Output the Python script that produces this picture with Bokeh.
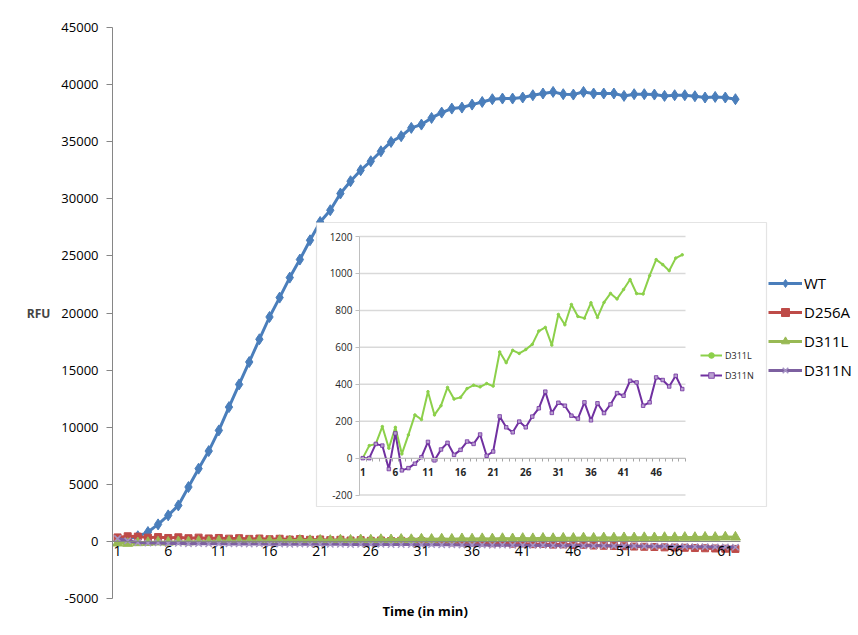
from bokeh.plotting import figure
from bokeh.models import (Range1d, LinearAxis, FixedTicker, Legend, LegendItem,
                          BoxAnnotation, Title)
from bokeh.embed import file_html
from bokeh.resources import INLINE

# ---------------- data ----------------
TIME = list(range(1, 63))
WT = [50, 200, 450, 820, 1490, 2280, 3150, 4760, 6370, 7910,
      9720, 11760, 13750, 15710, 17700, 19650, 21350, 23100, 24680, 26370,
      27970, 29000, 30460, 31540, 32500, 33290, 34160, 34980, 35480, 36210,
      36500, 37080, 37550, 37900, 37990, 38250, 38480, 38720, 38780, 38780,
      38870, 39070, 39220, 39360, 39160, 39130, 39360, 39220, 39220, 39220,
      39010, 39160, 39160, 39130, 39010, 39070, 39070, 38980, 38870, 38920,
      38870, 38720]
D256A = [350, 450, 420, 330, 380, 300, 360, 280, 330, 260,
         300, 240, 280, 220, 250, 190, 230, 160, 200, 140,
         170, 110, 140, 80, 110, 50, 80, 30, 50, 0,
         20, -40, -20, -80, -60, -120, -100, -160, -140, -200,
         -180, -240, -220, -280, -260, -320, -300, -360, -380, -400,
         -420, -450, -470, -490, -520, -540, -560, -580, -600, -620,
         -640, -660]
D311L = [-150, -180, -120, -100, -60, -80, -30, -50, 0, -20,
         30, 10, 40, 20, 60, 40, 70, 50, 90, 70,
         100, 80, 120, 100, 140, 120, 160, 140, 180, 160,
         200, 180, 210, 190, 230, 210, 240, 220, 250, 230,
         260, 240, 270, 250, 280, 270, 300, 280, 310, 300,
         320, 310, 330, 320, 340, 330, 350, 340, 360, 350,
         380, 370]
D311N = [250, 50, -100, -150, -130, -180, -160, -200, -190, -210,
         -200, -220, -210, -230, -220, -240, -230, -250, -240, -260,
         -250, -260, -250, -270, -260, -270, -260, -280, -270, -280,
         -290, -280, -300, -290, -310, -320, -310, -330, -320, -340,
         -330, -350, -340, -360, -370, -360, -380, -390, -380, -400,
         -410, -400, -420, -430, -420, -440, -450, -460, -470, -480,
         -490, -500]
Y_TICKS = [-5000, 0, 5000, 10000, 15000, 20000, 25000, 30000, 35000, 40000, 45000]
X_TICKS = [1, 6, 11, 16, 21, 26, 31, 36, 41, 46, 51, 56, 61]

INSET_TIME = list(range(1, 51))
INSET_D311L = [0, 68, 77, 171, 54, 167, 23, 126, 234, 209,
               360, 234, 284, 383, 320, 329, 377, 395, 386, 404,
               390, 575, 517, 584, 567, 588, 616, 688, 708, 612,
               778, 722, 832, 767, 758, 841, 762, 843, 892, 862,
               913, 967, 891, 889, 988, 1075, 1048, 1015, 1083, 1101]
INSET_D311N = [0, 0, 77, 68, -59, 134, -66, -54, -30, 5,
               88, -12, 47, 83, 18, 45, 90, 77, 128, 13,
               36, 226, 167, 140, 198, 167, 225, 270, 360, 245,
               300, 284, 230, 214, 302, 205, 297, 244, 291, 352,
               338, 419, 410, 284, 302, 437, 423, 388, 446, 374]
INSET_Y_TICKS = [-200, 0, 200, 400, 600, 800, 1000, 1200]
INSET_X_TICKS = [1, 6, 11, 16, 21, 26, 31, 36, 41, 46]

# ---------------- layout constants (page pixels) ----------------
FIG_W, FIG_H = 856, 632
AX_L, AX_R, FRAME_T, FRAME_B = 112, 740, 27, 598   # category axis spans AX_L..AX_R
X_MIN, X_MAX = 0.5, len(TIME) + 0.5
Y_MIN, Y_MAX = -5000, 45000
IN_L, IN_R, IN_T, IN_B = 359, 685, 236, 494.6      # inset axes extents
IX_MIN, IX_MAX = 0.5, len(INSET_TIME) + 0.5
IY_MIN, IY_MAX = -200, 1200
BOX_L, BOX_R, BOX_T, BOX_B = 316, 766, 222, 506    # inset outer box

kxm = (AX_R - AX_L) / (X_MAX - X_MIN)
x_end = X_MAX + (FIG_W - AX_R) / kxm               # frame runs to the figure's right edge
kx = (IN_R - IN_L) / (IX_MAX - IX_MIN)
ky = (IN_B - IN_T) / (IY_MAX - IY_MIN)
ix_start = IX_MIN - (IN_L - AX_L) / kx
ix_end = IX_MAX + (FIG_W - IN_R) / kx
iy_start = IY_MIN - (FRAME_B - IN_B) / ky
iy_end = IY_MAX + (IN_T - FRAME_T) / ky

FONT = "Open Sans"
AX_GRAY = "#868686"


def hyphen_minus(ticks):
    return {t: str(t) for t in ticks if t < 0}


p = figure(width=FIG_W, height=FIG_H, output_backend="svg", toolbar_location=None,
           x_range=Range1d(X_MIN, x_end), y_range=Range1d(Y_MIN, Y_MAX),
           x_axis_location=None,
           min_border_left=AX_L, min_border_right=0,
           min_border_top=FRAME_T, min_border_bottom=FIG_H - FRAME_B)
p.extra_x_ranges = {"ix": Range1d(ix_start, ix_end)}
p.extra_y_ranges = {"iy": Range1d(iy_start, iy_end)}
p.xgrid.visible = False
p.ygrid.visible = False
p.outline_line_color = None
p.background_fill_color = "white"

# main y axis
yax = p.yaxis[0]
yax.ticker = FixedTicker(ticks=Y_TICKS)
yax.major_label_overrides = hyphen_minus(Y_TICKS)
yax.axis_line_color = AX_GRAY
yax.major_tick_line_color = AX_GRAY
yax.major_tick_out = 6
yax.major_tick_in = 0
yax.minor_tick_out = 0
yax.minor_tick_in = 0
yax.major_label_text_font = FONT
yax.major_label_text_font_size = "13px"
yax.major_label_text_color = "black"
yax.major_label_standoff = 8
yax.axis_label = "RFU"
yax.axis_label_orientation = "horizontal"
yax.axis_label_text_font = FONT
yax.axis_label_text_font_style = "bold"
yax.axis_label_text_font_size = "12px"
yax.axis_label_standoff = 8

# category axis crossing at zero
x0 = LinearAxis(fixed_location=0, bounds=(X_MIN, X_MAX),
                ticker=FixedTicker(ticks=X_TICKS),
                axis_line_color=AX_GRAY, major_tick_out=0, major_tick_in=0,
                minor_tick_out=0, minor_tick_in=0,
                major_label_standoff=5, major_label_text_font=FONT,
                major_label_text_font_size="14px", major_label_text_color="black")
p.add_layout(x0, "below")

# x-axis title, below the plot area, centred under the category axis
p.add_layout(Title(text="Time (in min)", align="left", offset=270, standoff=6,
                   vertical_align="top", text_font=FONT, text_font_style="bold",
                   text_font_size="13px", text_color="black"), "below")

# main series
C_WT, C_RED, C_GRN, C_PUR = "#4A7EBB", "#BE4B48", "#98B954", "#7D60A0"
wt_l = p.line(TIME, WT, line_color=C_WT, line_width=3)
wt_s = p.scatter(TIME, WT, marker="diamond", size=11, fill_color=C_WT, line_color=C_WT)
ra_l = p.line(TIME, D256A, line_color=C_RED, line_width=3)
ra_s = p.scatter(TIME, D256A, marker="square", size=7, fill_color=C_RED, line_color=C_RED)
gl_l = p.line(TIME, D311L, line_color=C_GRN, line_width=3)
gl_s = p.scatter(TIME, D311L, marker="triangle", size=10, fill_color=C_GRN, line_color=C_GRN)
pn_l = p.line(TIME, D311N, line_color=C_PUR, line_width=3)
pn_s = p.scatter(TIME, D311N, marker="x", size=9, line_color="#A593C4", line_width=1.5)

# ---------------- inset ----------------
bx_l = IX_MIN - (IN_L - BOX_L) / kx
bx_r = IX_MAX + (BOX_R - IN_R) / kx
by_t = IY_MAX + (IN_T - BOX_T) / ky
by_b = IY_MIN - (BOX_B - IN_B) / ky
p.quad(left=[bx_l], right=[bx_r], top=[by_t], bottom=[by_b], fill_color="white",
       line_color=None, x_range_name="ix", y_range_name="iy")
p.segment(x0=[IX_MIN] * len(INSET_Y_TICKS), x1=[IX_MAX] * len(INSET_Y_TICKS),
          y0=INSET_Y_TICKS, y1=INSET_Y_TICKS, line_color="#D9D9D9", line_width=1.5,
          x_range_name="ix", y_range_name="iy")
C_IG, C_IP = "#8CD04A", "#7030A0"
ig_l = p.line(INSET_TIME, INSET_D311L, line_color=C_IG, line_width=2,
              x_range_name="ix", y_range_name="iy")
ig_s = p.scatter(INSET_TIME, INSET_D311L, marker="circle", size=2.5, fill_color=C_IG,
                 line_color=C_IG, x_range_name="ix", y_range_name="iy")
ip_l = p.line(INSET_TIME, INSET_D311N, line_color=C_IP, line_width=2,
              x_range_name="ix", y_range_name="iy")
ip_s = p.scatter(INSET_TIME, INSET_D311N, marker="square", size=3.5, fill_color="#B9A0D0",
                 line_color=C_IP, line_width=0.8, x_range_name="ix", y_range_name="iy")

box = BoxAnnotation(left=bx_l, right=bx_r, top=by_t, bottom=by_b,
                    x_range_name="ix", y_range_name="iy",
                    fill_color=None, fill_alpha=0, line_color="#A6A6A6", line_width=1.2)
p.add_layout(box)

iy_axis = LinearAxis(x_range_name="ix", y_range_name="iy", fixed_location=IX_MIN,
                     bounds=(IY_MIN, IY_MAX), ticker=FixedTicker(ticks=INSET_Y_TICKS),
                     major_label_overrides=hyphen_minus(INSET_Y_TICKS),
                     axis_line_color="#BFBFBF", major_tick_line_color="#BFBFBF",
                     major_tick_out=4, major_tick_in=0, minor_tick_out=0, minor_tick_in=0,
                     major_label_standoff=3, major_label_text_font=FONT,
                     major_label_text_font_size="10px", major_label_text_color="#262626")
p.add_layout(iy_axis, "left")
ix_axis = LinearAxis(x_range_name="ix", y_range_name="iy", fixed_location=0,
                     bounds=(IX_MIN, IX_MAX),
                     ticker=FixedTicker(ticks=INSET_X_TICKS,
                                        minor_ticks=[i + 0.5 for i in range(len(INSET_TIME) + 1)]),
                     axis_line_color="#BFBFBF", major_tick_out=0, major_tick_in=0,
                     minor_tick_line_color="#A6A6A6", minor_tick_out=3, minor_tick_in=0,
                     major_label_standoff=7, major_label_text_font=FONT,
                     major_label_text_font_size="10px", major_label_text_color="#262626",
                     major_label_text_font_style="bold")
p.add_layout(ix_axis, "below")

# ---------------- legends ----------------
main_leg = Legend(items=[LegendItem(label="WT", renderers=[wt_l, wt_s]),
                         LegendItem(label="D256A", renderers=[ra_l, ra_s]),
                         LegendItem(label="D311L", renderers=[gl_l, gl_s]),
                         LegendItem(label="D311N", renderers=[pn_l, pn_s])],
                  location=(768 - AX_L, FRAME_B - 380),
                  border_line_color=None, background_fill_alpha=0,
                  padding=0, margin=0, spacing=9, glyph_width=34, glyph_height=20,
                  label_height=20, label_standoff=2, label_text_font=FONT,
                  label_text_font_size="15px", label_text_color="black")
p.add_layout(main_leg)

in_leg = Legend(items=[LegendItem(label="D311L", renderers=[ig_l, ig_s]),
                       LegendItem(label="D311N", renderers=[ip_l, ip_s])],
                location=(700 - AX_L, FRAME_B - 382),
                border_line_color=None, background_fill_alpha=0,
                padding=0, margin=0, spacing=6, glyph_width=22, glyph_height=14,
                label_height=14, label_standoff=3, label_text_font=FONT,
                label_text_font_size="9px", label_text_color="#262626")
p.add_layout(in_leg)

open("out.html", "w").write(file_html(p, INLINE))
